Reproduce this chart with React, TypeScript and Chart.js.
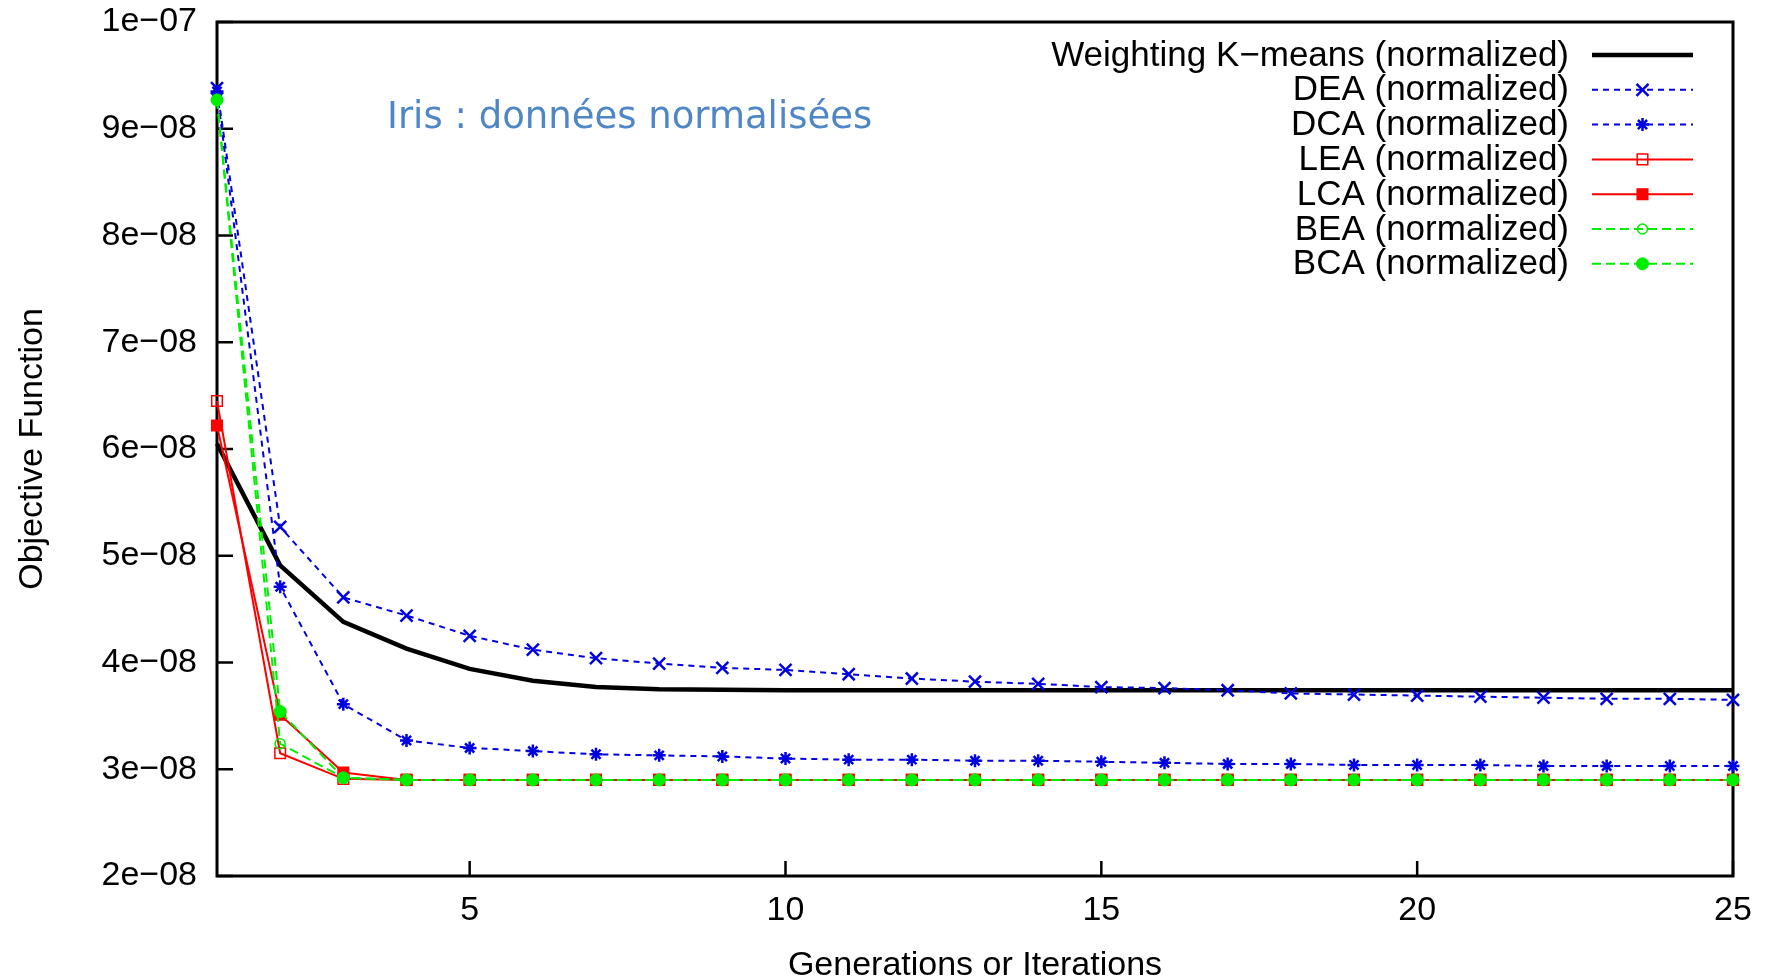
import React, { useEffect, useRef } from 'react';
import { Chart, registerables } from 'chart.js';
import { drawPoint } from 'chart.js/helpers';

Chart.register(...registerables);

// ---- data ----
const iterations = [1, 2, 3, 4, 5, 6, 7, 8, 9, 10, 11, 12, 13, 14, 15, 16, 17, 18, 19, 20, 21, 22, 23, 24, 25];

const kmeansNorm = [6.05e-8, 4.91e-8, 4.38e-8, 4.13e-8, 3.94e-8, 3.83e-8, 3.77e-8, 3.75e-8, 3.745e-8, 3.74e-8, 3.74e-8, 3.74e-8, 3.74e-8, 3.74e-8, 3.74e-8, 3.74e-8, 3.74e-8, 3.74e-8, 3.74e-8, 3.74e-8, 3.74e-8, 3.74e-8, 3.74e-8, 3.74e-8, 3.74e-8];
const deaNorm = [9.38e-8, 5.27e-8, 4.61e-8, 4.44e-8, 4.25e-8, 4.12e-8, 4.04e-8, 3.99e-8, 3.95e-8, 3.93e-8, 3.89e-8, 3.85e-8, 3.82e-8, 3.80e-8, 3.77e-8, 3.76e-8, 3.74e-8, 3.71e-8, 3.70e-8, 3.69e-8, 3.68e-8, 3.67e-8, 3.66e-8, 3.66e-8, 3.65e-8];
const dcaNorm = [9.35e-8, 4.71e-8, 3.61e-8, 3.27e-8, 3.20e-8, 3.17e-8, 3.14e-8, 3.13e-8, 3.12e-8, 3.10e-8, 3.09e-8, 3.09e-8, 3.08e-8, 3.08e-8, 3.07e-8, 3.06e-8, 3.05e-8, 3.05e-8, 3.04e-8, 3.04e-8, 3.04e-8, 3.03e-8, 3.03e-8, 3.03e-8, 3.03e-8];
const leaNorm = [6.45e-8, 3.15e-8, 2.91e-8, 2.9e-8, 2.9e-8, 2.9e-8, 2.9e-8, 2.9e-8, 2.9e-8, 2.9e-8, 2.9e-8, 2.9e-8, 2.9e-8, 2.9e-8, 2.9e-8, 2.9e-8, 2.9e-8, 2.9e-8, 2.9e-8, 2.9e-8, 2.9e-8, 2.9e-8, 2.9e-8, 2.9e-8, 2.9e-8];
const lcaNorm = [6.22e-8, 3.51e-8, 2.97e-8, 2.9e-8, 2.9e-8, 2.9e-8, 2.9e-8, 2.9e-8, 2.9e-8, 2.9e-8, 2.9e-8, 2.9e-8, 2.9e-8, 2.9e-8, 2.9e-8, 2.9e-8, 2.9e-8, 2.9e-8, 2.9e-8, 2.9e-8, 2.9e-8, 2.9e-8, 2.9e-8, 2.9e-8, 2.9e-8];
const beaNorm = [9.27e-8, 3.24e-8, 2.92e-8, 2.9e-8, 2.9e-8, 2.9e-8, 2.9e-8, 2.9e-8, 2.9e-8, 2.9e-8, 2.9e-8, 2.9e-8, 2.9e-8, 2.9e-8, 2.9e-8, 2.9e-8, 2.9e-8, 2.9e-8, 2.9e-8, 2.9e-8, 2.9e-8, 2.9e-8, 2.9e-8, 2.9e-8, 2.9e-8];
const bcaNorm = [9.27e-8, 3.54e-8, 2.92e-8, 2.9e-8, 2.9e-8, 2.9e-8, 2.9e-8, 2.9e-8, 2.9e-8, 2.9e-8, 2.9e-8, 2.9e-8, 2.9e-8, 2.9e-8, 2.9e-8, 2.9e-8, 2.9e-8, 2.9e-8, 2.9e-8, 2.9e-8, 2.9e-8, 2.9e-8, 2.9e-8, 2.9e-8, 2.9e-8];

const seriesLabels = [
  'Weighting K\u2212means (normalized)',
  'DEA (normalized)',
  'DCA (normalized)',
  'LEA (normalized)',
  'LCA (normalized)',
  'BEA (normalized)',
  'BCA (normalized)',
];

const xTickValues = [5, 10, 15, 20, 25];
const xTickLabels = ['5', '10', '15', '20', '25'];
const yTickValues = [2e-8, 3e-8, 4e-8, 5e-8, 6e-8, 7e-8, 8e-8, 9e-8, 1e-7];
const yTickLabels = ['2e\u221208', '3e\u221208', '4e\u221208', '5e\u221208', '6e\u221208', '7e\u221208', '8e\u221208', '9e\u221208', '1e\u221207'];

const annotationText = 'Iris : donn\u00e9es normalis\u00e9es';
const xTitle = 'Generations or Iterations';
const yTitle = 'Objective Function';

const FONT = '"Liberation Sans", Arial, Helvetica, sans-serif';

const toPoints = (ys: number[]) => iterations.map((x, i) => ({ x, y: ys[i] }));

// draws the plot frame and inward tick marks (left + bottom only)
const framePlugin = {
  id: 'gpFrame',
  beforeDatasetsDraw(chart: any) {
    const { ctx, chartArea } = chart;
    const { left, right, top, bottom } = chartArea;
    const xs = chart.scales.x;
    const ys = chart.scales.y;
    ctx.save();
    ctx.strokeStyle = '#000';
    ctx.lineWidth = 2.5;
    ys.ticks.forEach((t: any) => {
      const y = ys.getPixelForValue(t.value);
      ctx.beginPath();
      ctx.moveTo(left, y);
      ctx.lineTo(left + 16, y);
      ctx.stroke();
    });
    xs.ticks.forEach((t: any) => {
      const x = xs.getPixelForValue(t.value);
      ctx.beginPath();
      ctx.moveTo(x, bottom);
      ctx.lineTo(x, bottom - 15);
      ctx.stroke();
    });
    ctx.lineWidth = 3;
    ctx.strokeRect(left, top, right - left, bottom - top);
    ctx.restore();
  },
};

// gnuplot-like key: right-aligned text with sample line/marker to the right
const keyPlugin = {
  id: 'gpKey',
  afterDatasetsDraw(chart: any) {
    const { ctx, chartArea } = chart;
    const textRight = chartArea.right - 164;
    const lineStart = chartArea.right - 141;
    const lineEnd = chartArea.right - 40;
    const firstY = chartArea.top + 33;
    const rowH = 34.8;
    ctx.save();
    ctx.font = `35px ${FONT}`;
    ctx.textAlign = 'right';
    ctx.textBaseline = 'middle';
    chart.data.datasets.forEach((ds: any, i: number) => {
      const y = firstY + i * rowH;
      ctx.fillStyle = '#000';
      ctx.fillText(ds.label, textRight, y + 1);
      ctx.save();
      ctx.strokeStyle = ds.borderColor;
      ctx.lineWidth = ds.borderWidth;
      ctx.setLineDash(ds.borderDash || []);
      ctx.beginPath();
      ctx.moveTo(lineStart, y);
      ctx.lineTo(lineEnd, y);
      ctx.stroke();
      ctx.restore();
      if (ds.pointRadius > 0) {
        ctx.save();
        ctx.setLineDash([]);
        ctx.strokeStyle = ds.pointBorderColor;
        ctx.fillStyle = ds.pointBackgroundColor;
        ctx.lineWidth = ds.pointBorderWidth;
        drawPoint(ctx, { pointStyle: ds.pointStyle, radius: ds.pointRadius, rotation: 0, borderWidth: ds.pointBorderWidth }, (lineStart + lineEnd) / 2, y);
        ctx.restore();
      }
    });
    ctx.restore();
  },
};

const annotationPlugin = {
  id: 'gpLabel',
  afterDraw(chart: any) {
    const { ctx, chartArea } = chart;
    ctx.save();
    ctx.font = '37px "DejaVu Sans", Verdana, sans-serif';
    ctx.fillStyle = '#4f86c6';
    ctx.textAlign = 'left';
    ctx.textBaseline = 'alphabetic';
    ctx.fillText(annotationText, chartArea.left + 170, chartArea.top + 106);
    ctx.restore();
  },
};

export default function App() {
  const canvasRef = useRef<HTMLCanvasElement | null>(null);

  useEffect(() => {
    if (!canvasRef.current) return;
    Chart.defaults.font.family = FONT;
    Chart.defaults.color = '#000';

    const blue = '#0000e0';
    const red = '#ff0000';
    const green = '#00ee00';
    const n = seriesLabels.length;

    const mk = (i: number, data: number[], extra: any) => ({
      label: seriesLabels[i],
      data: toPoints(data),
      order: n - i,
      clip: false,
      tension: 0,
      fill: false,
      pointHoverRadius: extra.pointRadius,
      ...extra,
    });

    const chart = new Chart(canvasRef.current, {
      type: 'line',
      data: {
        datasets: [
          mk(0, kmeansNorm, { borderColor: '#000', borderWidth: 4.5, pointRadius: 0, pointBorderWidth: 0, pointStyle: 'circle', pointBorderColor: '#000', pointBackgroundColor: '#000' }),
          mk(1, deaNorm, { borderColor: blue, borderWidth: 2, borderDash: [6, 5], pointStyle: 'crossRot', pointRadius: 8.5, pointBorderWidth: 2.5, pointBorderColor: blue, pointBackgroundColor: blue }),
          mk(2, dcaNorm, { borderColor: blue, borderWidth: 2, borderDash: [6, 5], pointStyle: 'star', pointRadius: 6.5, pointBorderWidth: 2.5, pointBorderColor: blue, pointBackgroundColor: blue }),
          mk(3, leaNorm, { borderColor: red, borderWidth: 2, pointStyle: 'rect', pointRadius: 7.5, pointBorderWidth: 1.5, pointBorderColor: red, pointBackgroundColor: 'rgba(0,0,0,0)' }),
          mk(4, lcaNorm, { borderColor: red, borderWidth: 2, pointStyle: 'rect', pointRadius: 7.5, pointBorderWidth: 1.5, pointBorderColor: red, pointBackgroundColor: red }),
          mk(5, beaNorm, { borderColor: green, borderWidth: 2, borderDash: [9, 5], pointStyle: 'circle', pointRadius: 5, pointBorderWidth: 1.5, pointBorderColor: green, pointBackgroundColor: 'rgba(0,0,0,0)' }),
          mk(6, bcaNorm, { borderColor: green, borderWidth: 2, borderDash: [9, 5], pointStyle: 'circle', pointRadius: 6, pointBorderWidth: 1, pointBorderColor: green, pointBackgroundColor: green }),
        ],
      },
      options: {
        responsive: false,
        animation: false,
        events: [],
        layout: { padding: { top: 22, right: 37, left: 0, bottom: 0 } },
        plugins: {
          legend: { display: false },
          tooltip: { enabled: false },
          title: { display: false },
        },
        scales: {
          x: {
            type: 'linear',
            min: 1,
            max: 25,
            grid: { display: false, drawTicks: false },
            border: { display: false },
            afterBuildTicks: (scale: any) => {
              scale.ticks = xTickValues.map((v) => ({ value: v }));
            },
            afterFit: (scale: any) => {
              scale.height = 103;
              scale.paddingLeft = 0;
              scale.paddingRight = 0;
            },
            ticks: {
              padding: 14,
              autoSkip: false,
              maxRotation: 0,
              font: { size: 34, lineHeight: 1.2 },
              callback: (_v: any, i: number) => xTickLabels[i],
            },
            title: {
              display: true,
              text: xTitle,
              font: { size: 34, lineHeight: 0.8 },
              padding: { top: 0, bottom: 0 },
            },
          },
          y: {
            type: 'linear',
            min: 2e-8,
            max: 1e-7,
            grid: { display: false, drawTicks: false },
            border: { display: false },
            afterBuildTicks: (scale: any) => {
              scale.ticks = yTickValues.map((v) => ({ value: v }));
            },
            afterFit: (scale: any) => {
              scale.width = 217;
              scale.paddingTop = 0;
              scale.paddingBottom = 0;
            },
            ticks: {
              padding: 20,
              autoSkip: false,
              font: { size: 34, lineHeight: 1.2 },
              callback: (_v: any, i: number) => yTickLabels[i],
            },
            title: {
              display: true,
              text: yTitle,
              font: { size: 34, lineHeight: 1.2 },
              padding: { top: 12, bottom: 0 },
            },
          },
        },
      },
      plugins: [framePlugin, keyPlugin, annotationPlugin],
    } as any);

    return () => chart.destroy();
  }, []);

  return (
    <div style={{ position: 'absolute', left: 0, top: 0, width: 1770, height: 979, background: '#fff' }}>
      <canvas ref={canvasRef} width={1770} height={979} style={{ display: 'block' }} />
    </div>
  );
}
